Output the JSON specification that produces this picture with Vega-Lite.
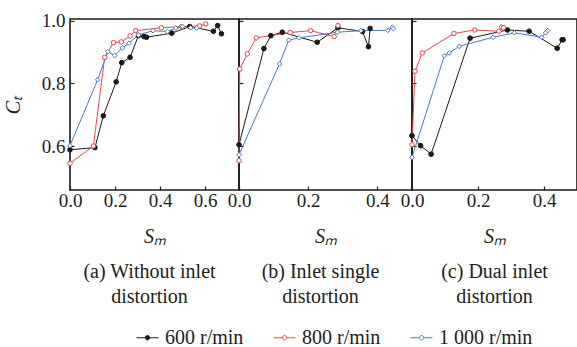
{
  "$schema": "https://vega.github.io/schema/vega-lite/v6.json",
  "padding": {"left": 2, "top": 10, "right": 0, "bottom": 0},
  "background": "#ffffff",
  "spacing": 0,
  "bounds": "flush",
  "config": {
    "view": {"stroke": "#1a1a1a", "strokeWidth": 1.6},
    "font": "Liberation Serif",
    "style": {"guide-label": {"font": "Liberation Serif"}, "guide-title": {"font": "Liberation Serif"}},
    "axis": {
      "labelFont": "Liberation Serif", "labelFontSize": 19, "labelColor": "#222",
      "titleFont": "Liberation Serif", "titleFontSize": 20, "titleFontWeight": "normal", "titleColor": "#222",
      "domain": false, "grid": false, "tickColor": "#222", "tickSize": -4, "tickWidth": 1.2,
      "labelOverlap": false, "labelBound": false, "labelFlush": false
    },
    "title": {"font": "Liberation Serif", "fontSize": 20, "fontWeight": "normal", "color": "#222"}
  },
  "datasets": {
    "p1": [
      {"s": "600 r/min", "i": 1, "x": 0.0, "y": 0.589},
      {"s": "600 r/min", "i": 2, "x": 0.111, "y": 0.596},
      {"s": "600 r/min", "i": 3, "x": 0.148, "y": 0.697},
      {"s": "600 r/min", "i": 4, "x": 0.205, "y": 0.805},
      {"s": "600 r/min", "i": 5, "x": 0.230, "y": 0.866},
      {"s": "600 r/min", "i": 6, "x": 0.267, "y": 0.883},
      {"s": "600 r/min", "i": 7, "x": 0.304, "y": 0.952},
      {"s": "600 r/min", "i": 8, "x": 0.329, "y": 0.949},
      {"s": "600 r/min", "i": 9, "x": 0.340, "y": 0.947},
      {"s": "600 r/min", "i": 10, "x": 0.452, "y": 0.960},
      {"s": "600 r/min", "i": 11, "x": 0.532, "y": 0.981},
      {"s": "600 r/min", "i": 12, "x": 0.637, "y": 0.966},
      {"s": "600 r/min", "i": 13, "x": 0.656, "y": 0.984},
      {"s": "600 r/min", "i": 14, "x": 0.673, "y": 0.958},
      {"s": "800 r/min", "i": 1, "x": 0.0, "y": 0.546},
      {"s": "800 r/min", "i": 2, "x": 0.104, "y": 0.601},
      {"s": "800 r/min", "i": 3, "x": 0.154, "y": 0.883},
      {"s": "800 r/min", "i": 4, "x": 0.193, "y": 0.930},
      {"s": "800 r/min", "i": 5, "x": 0.228, "y": 0.932},
      {"s": "800 r/min", "i": 6, "x": 0.267, "y": 0.951},
      {"s": "800 r/min", "i": 7, "x": 0.292, "y": 0.968},
      {"s": "800 r/min", "i": 8, "x": 0.406, "y": 0.977},
      {"s": "800 r/min", "i": 9, "x": 0.496, "y": 0.981},
      {"s": "800 r/min", "i": 10, "x": 0.576, "y": 0.983},
      {"s": "800 r/min", "i": 11, "x": 0.603, "y": 0.989},
      {"s": "1 000 r/min", "i": 1, "x": 0.0, "y": 0.602},
      {"s": "1 000 r/min", "i": 2, "x": 0.123, "y": 0.812},
      {"s": "1 000 r/min", "i": 3, "x": 0.168, "y": 0.901},
      {"s": "1 000 r/min", "i": 4, "x": 0.199, "y": 0.889},
      {"s": "1 000 r/min", "i": 5, "x": 0.233, "y": 0.913},
      {"s": "1 000 r/min", "i": 6, "x": 0.262, "y": 0.928},
      {"s": "1 000 r/min", "i": 7, "x": 0.304, "y": 0.954},
      {"s": "1 000 r/min", "i": 8, "x": 0.369, "y": 0.968},
      {"s": "1 000 r/min", "i": 9, "x": 0.433, "y": 0.965},
      {"s": "1 000 r/min", "i": 10, "x": 0.470, "y": 0.976},
      {"s": "1 000 r/min", "i": 11, "x": 0.500, "y": 0.981},
      {"s": "1 000 r/min", "i": 12, "x": 0.536, "y": 0.977},
      {"s": "1 000 r/min", "i": 13, "x": 0.563, "y": 0.976}
    ],
    "p2": [
      {"s": "600 r/min", "i": 1, "x": 0.0, "y": 0.605},
      {"s": "600 r/min", "i": 2, "x": 0.072, "y": 0.911},
      {"s": "600 r/min", "i": 3, "x": 0.092, "y": 0.952},
      {"s": "600 r/min", "i": 4, "x": 0.125, "y": 0.963},
      {"s": "600 r/min", "i": 5, "x": 0.226, "y": 0.931},
      {"s": "600 r/min", "i": 6, "x": 0.286, "y": 0.977},
      {"s": "600 r/min", "i": 7, "x": 0.357, "y": 0.965},
      {"s": "600 r/min", "i": 8, "x": 0.374, "y": 0.917},
      {"s": "600 r/min", "i": 9, "x": 0.379, "y": 0.975},
      {"s": "800 r/min", "i": 1, "x": 0.0, "y": 0.554},
      {"s": "800 r/min", "i": 2, "x": 0.002, "y": 0.846},
      {"s": "800 r/min", "i": 3, "x": 0.024, "y": 0.894},
      {"s": "800 r/min", "i": 4, "x": 0.050, "y": 0.945},
      {"s": "800 r/min", "i": 5, "x": 0.148, "y": 0.962},
      {"s": "800 r/min", "i": 6, "x": 0.207, "y": 0.968},
      {"s": "800 r/min", "i": 7, "x": 0.275, "y": 0.949},
      {"s": "800 r/min", "i": 8, "x": 0.286, "y": 0.984},
      {"s": "1 000 r/min", "i": 1, "x": 0.0, "y": 0.573},
      {"s": "1 000 r/min", "i": 2, "x": 0.117, "y": 0.862},
      {"s": "1 000 r/min", "i": 3, "x": 0.144, "y": 0.938},
      {"s": "1 000 r/min", "i": 4, "x": 0.173, "y": 0.945},
      {"s": "1 000 r/min", "i": 5, "x": 0.285, "y": 0.963},
      {"s": "1 000 r/min", "i": 6, "x": 0.352, "y": 0.968},
      {"s": "1 000 r/min", "i": 7, "x": 0.430, "y": 0.969},
      {"s": "1 000 r/min", "i": 8, "x": 0.443, "y": 0.979},
      {"s": "1 000 r/min", "i": 9, "x": 0.446, "y": 0.974}
    ],
    "p3": [
      {"s": "600 r/min", "i": 1, "x": 0.0, "y": 0.634},
      {"s": "600 r/min", "i": 2, "x": 0.026, "y": 0.602},
      {"s": "600 r/min", "i": 3, "x": 0.058, "y": 0.575},
      {"s": "600 r/min", "i": 4, "x": 0.176, "y": 0.944},
      {"s": "600 r/min", "i": 5, "x": 0.289, "y": 0.970},
      {"s": "600 r/min", "i": 6, "x": 0.355, "y": 0.966},
      {"s": "600 r/min", "i": 7, "x": 0.440, "y": 0.912},
      {"s": "600 r/min", "i": 8, "x": 0.455, "y": 0.939},
      {"s": "600 r/min", "i": 9, "x": 0.458, "y": 0.939},
      {"s": "800 r/min", "i": 1, "x": 0.0, "y": 0.605},
      {"s": "800 r/min", "i": 2, "x": 0.009, "y": 0.839},
      {"s": "800 r/min", "i": 3, "x": 0.031, "y": 0.897},
      {"s": "800 r/min", "i": 4, "x": 0.127, "y": 0.959},
      {"s": "800 r/min", "i": 5, "x": 0.190, "y": 0.970},
      {"s": "800 r/min", "i": 6, "x": 0.263, "y": 0.966},
      {"s": "800 r/min", "i": 7, "x": 0.272, "y": 0.979},
      {"s": "800 r/min", "i": 8, "x": 0.277, "y": 0.977},
      {"s": "1 000 r/min", "i": 1, "x": 0.0, "y": 0.565},
      {"s": "1 000 r/min", "i": 2, "x": 0.098, "y": 0.888},
      {"s": "1 000 r/min", "i": 3, "x": 0.113, "y": 0.897},
      {"s": "1 000 r/min", "i": 4, "x": 0.143, "y": 0.918},
      {"s": "1 000 r/min", "i": 5, "x": 0.246, "y": 0.947},
      {"s": "1 000 r/min", "i": 6, "x": 0.310, "y": 0.961},
      {"s": "1 000 r/min", "i": 7, "x": 0.393, "y": 0.947},
      {"s": "1 000 r/min", "i": 8, "x": 0.405, "y": 0.961},
      {"s": "1 000 r/min", "i": 9, "x": 0.411, "y": 0.968}
    ]
  },
  "hconcat": [
    {
      "width": 169, "height": 171,
      "data": {"name": "p1"},
      "title": {"text": ["(a) Without inlet", "distortion"], "orient": "bottom", "offset": 16, "lineHeight": 25, "dx": -5},
      "encoding": {
        "x": {"field": "x", "type": "quantitative", "scale": {"domain": [0, 0.751], "nice": false, "zero": false},
              "axis": {"values": [0, 0.2, 0.4, 0.6], "format": ".1f", "title": "Sₘ", "titleFontStyle": "italic", "labelPadding": 5, "titlePadding": 16,
                       "labelFont": "Liberation Serif", "titleFont": "Liberation Serif"}},
        "y": {"field": "y", "type": "quantitative", "scale": {"domain": [0.461, 1.005], "nice": false, "zero": false},
              "axis": {"values": [0.6, 0.8, 1.0], "format": ".1f", "title": "Cₜ", "titleFontStyle": "italic", "labelPadding": 9, "titlePadding": 18,
                       "labelFont": "Liberation Serif", "titleFont": "Liberation Serif"}},
        "stroke": {"field": "s", "type": "nominal",
                   "scale": {"domain": ["600 r/min", "800 r/min", "1 000 r/min"], "range": ["#1a1a1a", "#e8474b", "#4a7ac6"]},
                   "legend": {"orient": "none", "legendX": 66, "legendY": 307, "direction": "horizontal", "title": null,
                              "labelFont": "Liberation Serif", "labelFontSize": 20, "labelColor": "#222", "labelOffset": 6,
                              "columnPadding": 27, "symbolSize": 484, "symbolStrokeWidth": 1,
                              "symbolType": "M-1,0L-0.2,0M0.2,0L1,0M-0.2,0A0.2,0.2,0,1,1,0.2,0A0.2,0.2,0,1,1,-0.2,0",
                              "encode": {"symbols": {"update": {
                                "shape": {"value": "M-1,0L-0.2,0M0.2,0L1,0M-0.2,0A0.2,0.2,0,1,1,0.2,0A0.2,0.2,0,1,1,-0.2,0"},
                                "size": {"value": 484},
                                "strokeWidth": {"value": 1},
                                "fill": {"signal": "datum.value === '600 r/min' ? '#1a1a1a' : 'white'"}}}}}}
      },
      "layer": [
        {"mark": {"type": "line", "strokeWidth": 1}, "encoding": {"order": {"field": "i"}}},
        {"transform": [{"filter": "datum.s === '600 r/min'"}], "mark": {"type": "point", "shape": "circle", "filled": true, "fill": "#1a1a1a", "size": 22, "strokeWidth": 1, "opacity": 1}},
        {"transform": [{"filter": "datum.s === '800 r/min'"}], "mark": {"type": "point", "shape": "circle", "filled": true, "fill": "#ffffff", "size": 20, "strokeWidth": 1, "opacity": 1}},
        {"transform": [{"filter": "datum.s === '1 000 r/min'"}], "mark": {"type": "point", "shape": "diamond", "filled": true, "fill": "#ffffff", "size": 22, "strokeWidth": 1, "opacity": 1}}
      ]
    },
    {
      "width": 173, "height": 171,
      "data": {"name": "p2"},
      "title": {"text": ["(b) Inlet single", "distortion"], "orient": "bottom", "offset": 16, "lineHeight": 25, "dx": -5},
      "encoding": {
        "x": {"field": "x", "type": "quantitative", "scale": {"domain": [0, 0.5], "nice": false, "zero": false},
              "axis": {"values": [0, 0.2, 0.4], "format": ".1f", "title": "Sₘ", "titleFontStyle": "italic", "labelPadding": 5, "titlePadding": 16,
                       "labelFont": "Liberation Serif", "titleFont": "Liberation Serif"}},
        "y": {"field": "y", "type": "quantitative", "scale": {"domain": [0.461, 1.005], "nice": false, "zero": false},
              "axis": {"values": [0.6, 0.8, 1.0], "labels": false, "title": null}},
        "stroke": {"field": "s", "type": "nominal", "scale": {"domain": ["600 r/min", "800 r/min", "1 000 r/min"], "range": ["#1a1a1a", "#e8474b", "#4a7ac6"]}}
      },
      "layer": [
        {"mark": {"type": "line", "strokeWidth": 1}, "encoding": {"order": {"field": "i"}}},
        {"transform": [{"filter": "datum.s === '600 r/min'"}], "mark": {"type": "point", "shape": "circle", "filled": true, "fill": "#1a1a1a", "size": 22, "strokeWidth": 1, "opacity": 1}},
        {"transform": [{"filter": "datum.s === '800 r/min'"}], "mark": {"type": "point", "shape": "circle", "filled": true, "fill": "#ffffff", "size": 20, "strokeWidth": 1, "opacity": 1}},
        {"transform": [{"filter": "datum.s === '1 000 r/min'"}], "mark": {"type": "point", "shape": "diamond", "filled": true, "fill": "#ffffff", "size": 22, "strokeWidth": 1, "opacity": 1}}
      ]
    },
    {
      "width": 165, "height": 171,
      "data": {"name": "p3"},
      "title": {"text": ["(c) Dual inlet", "distortion"], "orient": "bottom", "offset": 16, "lineHeight": 25},
      "encoding": {
        "x": {"field": "x", "type": "quantitative", "scale": {"domain": [0, 0.5], "nice": false, "zero": false},
              "axis": {"values": [0, 0.2, 0.4], "format": ".1f", "title": "Sₘ", "titleFontStyle": "italic", "labelPadding": 5, "titlePadding": 16,
                       "labelFont": "Liberation Serif", "titleFont": "Liberation Serif"}},
        "y": {"field": "y", "type": "quantitative", "scale": {"domain": [0.461, 1.005], "nice": false, "zero": false},
              "axis": {"values": [0.6, 0.8, 1.0], "labels": false, "title": null}},
        "stroke": {"field": "s", "type": "nominal", "scale": {"domain": ["600 r/min", "800 r/min", "1 000 r/min"], "range": ["#1a1a1a", "#e8474b", "#4a7ac6"]}}
      },
      "layer": [
        {"mark": {"type": "line", "strokeWidth": 1}, "encoding": {"order": {"field": "i"}}},
        {"transform": [{"filter": "datum.s === '600 r/min'"}], "mark": {"type": "point", "shape": "circle", "filled": true, "fill": "#1a1a1a", "size": 22, "strokeWidth": 1, "opacity": 1}},
        {"transform": [{"filter": "datum.s === '800 r/min'"}], "mark": {"type": "point", "shape": "circle", "filled": true, "fill": "#ffffff", "size": 20, "strokeWidth": 1, "opacity": 1}},
        {"transform": [{"filter": "datum.s === '1 000 r/min'"}], "mark": {"type": "point", "shape": "diamond", "filled": true, "fill": "#ffffff", "size": 22, "strokeWidth": 1, "opacity": 1}}
      ]
    }
  ]
}
